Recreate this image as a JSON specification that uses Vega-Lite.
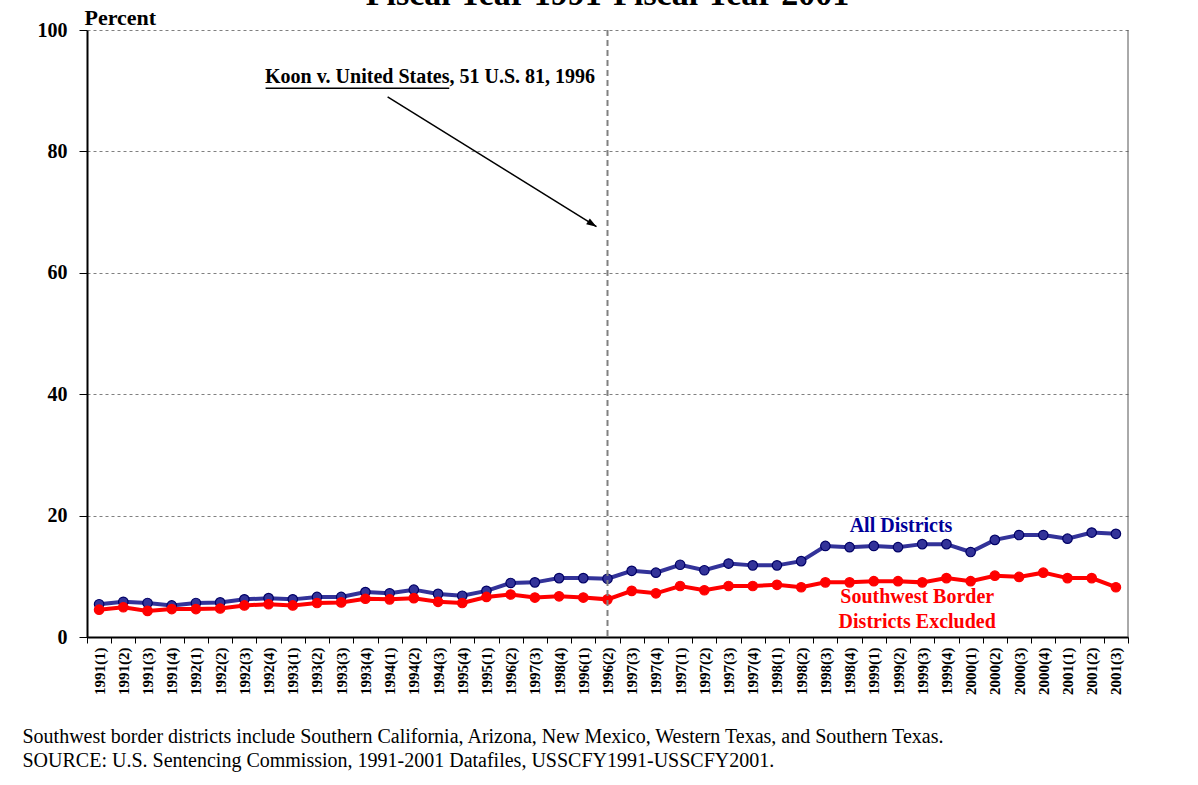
{
  "$schema": "https://vega.github.io/schema/vega-lite/v6.json",
  "width": 1041,
  "height": 607,
  "autosize": "none",
  "padding": {"left": 87, "top": 30, "right": 70, "bottom": 148},
  "background": "white",
  "config": {"font": "Liberation Serif", "view": {"stroke": null}},
  "title": {
    "text": "Fiscal Year 1991-Fiscal Year 2001",
    "font": "Liberation Serif",
    "fontSize": 34,
    "fontWeight": "bold",
    "color": "black",
    "anchor": "middle",
    "frame": "group",
    "baseline": "bottom",
    "offset": -40
  },
  "datasets": {
    "rates": [
      {"q": "1991(1)", "All Districts": 5.4, "Southwest Border Districts Excluded": 4.5},
      {"q": "1991(2)", "All Districts": 5.8, "Southwest Border Districts Excluded": 4.9},
      {"q": "1991(3)", "All Districts": 5.6, "Southwest Border Districts Excluded": 4.3},
      {"q": "1991(4)", "All Districts": 5.2, "Southwest Border Districts Excluded": 4.6},
      {"q": "1992(1)", "All Districts": 5.6, "Southwest Border Districts Excluded": 4.6},
      {"q": "1992(2)", "All Districts": 5.7, "Southwest Border Districts Excluded": 4.7},
      {"q": "1992(3)", "All Districts": 6.2, "Southwest Border Districts Excluded": 5.2},
      {"q": "1992(4)", "All Districts": 6.4, "Southwest Border Districts Excluded": 5.4},
      {"q": "1993(1)", "All Districts": 6.2, "Southwest Border Districts Excluded": 5.2},
      {"q": "1993(2)", "All Districts": 6.6, "Southwest Border Districts Excluded": 5.6},
      {"q": "1993(3)", "All Districts": 6.6, "Southwest Border Districts Excluded": 5.7},
      {"q": "1993(4)", "All Districts": 7.4, "Southwest Border Districts Excluded": 6.3},
      {"q": "1994(1)", "All Districts": 7.2, "Southwest Border Districts Excluded": 6.2},
      {"q": "1994(2)", "All Districts": 7.8, "Southwest Border Districts Excluded": 6.4},
      {"q": "1994(3)", "All Districts": 7.1, "Southwest Border Districts Excluded": 5.8},
      {"q": "1995(4)", "All Districts": 6.8, "Southwest Border Districts Excluded": 5.6},
      {"q": "1995(1)", "All Districts": 7.6, "Southwest Border Districts Excluded": 6.6},
      {"q": "1996(2)", "All Districts": 8.9, "Southwest Border Districts Excluded": 7.0},
      {"q": "1997(3)", "All Districts": 9.0, "Southwest Border Districts Excluded": 6.5},
      {"q": "1998(4)", "All Districts": 9.7, "Southwest Border Districts Excluded": 6.7},
      {"q": "1996(1)", "All Districts": 9.7, "Southwest Border Districts Excluded": 6.5},
      {"q": "1996(2)#2", "All Districts": 9.6, "Southwest Border Districts Excluded": 6.2},
      {"q": "1997(3)#2", "All Districts": 10.9, "Southwest Border Districts Excluded": 7.6},
      {"q": "1997(4)", "All Districts": 10.6, "Southwest Border Districts Excluded": 7.2},
      {"q": "1997(1)", "All Districts": 11.9, "Southwest Border Districts Excluded": 8.4},
      {"q": "1997(2)", "All Districts": 11.0, "Southwest Border Districts Excluded": 7.7},
      {"q": "1997(3)#3", "All Districts": 12.1, "Southwest Border Districts Excluded": 8.4},
      {"q": "1997(4)#2", "All Districts": 11.8, "Southwest Border Districts Excluded": 8.4},
      {"q": "1998(1)", "All Districts": 11.8, "Southwest Border Districts Excluded": 8.6},
      {"q": "1998(2)", "All Districts": 12.5, "Southwest Border Districts Excluded": 8.2},
      {"q": "1998(3)", "All Districts": 15.0, "Southwest Border Districts Excluded": 9.0},
      {"q": "1998(4)#2", "All Districts": 14.8, "Southwest Border Districts Excluded": 9.0},
      {"q": "1999(1)", "All Districts": 15.0, "Southwest Border Districts Excluded": 9.2},
      {"q": "1999(2)", "All Districts": 14.8, "Southwest Border Districts Excluded": 9.2},
      {"q": "1999(3)", "All Districts": 15.3, "Southwest Border Districts Excluded": 9.0},
      {"q": "1999(4)", "All Districts": 15.3, "Southwest Border Districts Excluded": 9.7},
      {"q": "2000(1)", "All Districts": 14.0, "Southwest Border Districts Excluded": 9.2},
      {"q": "2000(2)", "All Districts": 16.0, "Southwest Border Districts Excluded": 10.1},
      {"q": "2000(3)", "All Districts": 16.8, "Southwest Border Districts Excluded": 9.9},
      {"q": "2000(4)", "All Districts": 16.8, "Southwest Border Districts Excluded": 10.6},
      {"q": "2001(1)", "All Districts": 16.2, "Southwest Border Districts Excluded": 9.7},
      {"q": "2001(2)", "All Districts": 17.2, "Southwest Border Districts Excluded": 9.7},
      {"q": "2001(3)", "All Districts": 17.0, "Southwest Border Districts Excluded": 8.2}
    ],
    "decision": [{"q": "1996(2)#2"}],
    "lastQuarter": [{"q": "2001(3)"}],
    "koonText": [{"q": "1994(3)", "v": 91.3, "label": "Koon v. United States, 51 U.S. 81, 1996"}],
    "koonUnderline": [{"q": "1992(4)", "q2": "1995(4)", "v": 90.4}],
    "arrow": [{"q": "1994(1)", "v": 89.0, "q2": "1996(2)#2", "v2": 67.6}],
    "allLabel": [{"q": "1999(2)", "v": 18.3, "label": "All Districts"}],
    "swLabel": [
      {"q": "1999(3)", "v": 6.6, "label": "Southwest Border"},
      {"q": "1999(3)", "v": 2.5, "label": "Districts Excluded"}
    ]
  },
  "encoding": {
    "x": {
      "field": "q",
      "type": "ordinal",
      "sort": null,
      "scale": {"type": "band", "paddingInner": 0, "paddingOuter": 0},
      "axis": {
        "labelAngle": -90,
        "labelExpr": "slice(datum.label, 0, 7)",
        "labelFont": "Liberation Serif",
        "labelFontWeight": "bold",
        "labelFontSize": 15,
        "labelColor": "black",
        "labelPadding": 4,
        "domainColor": "black",
        "domainWidth": 2,
        "tickColor": "black",
        "tickWidth": 1,
        "tickSize": 6,
        "tickBand": "extent",
        "title": [
          "Southwest border districts include Southern California, Arizona, New Mexico, Western Texas, and Southern Texas.",
          "SOURCE: U.S. Sentencing Commission, 1991-2001 Datafiles, USSCFY1991-USSCFY2001."
        ],
        "titleFont": "Liberation Serif",
        "titleFontWeight": "normal",
        "titleFontSize": 20,
        "titleColor": "black",
        "titleAlign": "left",
        "titleAnchor": "start",
        "titleBaseline": "alphabetic",
        "titleLineHeight": 24,
        "titleX": -65,
        "titleY": 105
      }
    }
  },
  "layer": [
    {
      "data": {"name": "rates"},
      "transform": [{"fold": ["All Districts", "Southwest Border Districts Excluded"], "as": ["series", "pct"]}],
      "mark": {"type": "line", "strokeWidth": 4},
      "encoding": {
        "y": {
          "field": "pct",
          "type": "quantitative",
          "scale": {"domain": [0, 100], "nice": false},
          "axis": {
            "values": [0, 20, 40, 60, 80, 100],
            "grid": true,
            "gridColor": "#808080",
            "gridDash": [3, 3],
            "gridWidth": 1,
            "domainColor": "black",
            "domainWidth": 2,
            "tickColor": "black",
            "tickSize": 8,
            "labelFont": "Liberation Serif",
            "labelFontWeight": "bold",
            "labelFontSize": 20,
            "labelColor": "black",
            "labelPadding": 12,
            "title": "Percent",
            "titleFont": "Liberation Serif",
            "titleFontWeight": "bold",
            "titleFontSize": 22,
            "titleColor": "black",
            "titleAngle": 0,
            "titleAlign": "left",
            "titleBaseline": "alphabetic",
            "titleX": -3,
            "titleY": -6
          }
        },
        "color": {
          "field": "series",
          "type": "nominal",
          "scale": {"domain": ["All Districts", "Southwest Border Districts Excluded"], "range": ["#333399", "#ff0000"]},
          "legend": null
        }
      }
    },
    {
      "data": {"name": "rates"},
      "transform": [{"fold": ["All Districts", "Southwest Border Districts Excluded"], "as": ["series", "pct"]}],
      "mark": {"type": "point", "filled": true, "size": 90, "strokeWidth": 1.2, "opacity": 1},
      "encoding": {
        "y": {"field": "pct", "type": "quantitative"},
        "fill": {
          "field": "series",
          "type": "nominal",
          "scale": {"domain": ["All Districts", "Southwest Border Districts Excluded"], "range": ["#333399", "#ff0000"]},
          "legend": null
        },
        "stroke": {
          "field": "series",
          "type": "nominal",
          "scale": {"domain": ["All Districts", "Southwest Border Districts Excluded"], "range": ["#000066", "#ff0000"]},
          "legend": null
        }
      }
    },
    {
      "data": {"name": "decision"},
      "mark": {"type": "rule", "color": "#808080", "strokeWidth": 2, "strokeDash": [6, 4]},
      "encoding": {}
    },
    {
      "data": {"name": "lastQuarter"},
      "mark": {"type": "rule", "color": "#555555", "strokeWidth": 1},
      "encoding": {
        "x": {"field": "q", "type": "ordinal", "bandPosition": 1}
      }
    },
    {
      "data": {"name": "koonText"},
      "mark": {"type": "text", "font": "Liberation Serif", "fontWeight": "bold", "fontSize": 20, "color": "black", "align": "center", "baseline": "alphabetic", "dx": -8},
      "encoding": {
        "y": {"field": "v", "type": "quantitative"},
        "text": {"field": "label"}
      }
    },
    {
      "data": {"name": "koonUnderline"},
      "mark": {"type": "rule", "color": "black", "strokeWidth": 1.5, "xOffset": -3, "x2Offset": -13},
      "encoding": {
        "x2": {"field": "q2"},
        "y": {"field": "v", "type": "quantitative"}
      }
    },
    {
      "data": {"name": "arrow"},
      "mark": {"type": "rule", "color": "black", "strokeWidth": 1.5, "xOffset": -2, "x2Offset": -11},
      "encoding": {
        "x2": {"field": "q2"},
        "y": {"field": "v", "type": "quantitative"},
        "y2": {"field": "v2"}
      }
    },
    {
      "data": {"name": "arrow"},
      "mark": {"type": "point", "shape": "M0,0L-2,-0.7L-2,0.7Z", "filled": true, "color": "black", "size": 100, "angle": 31.8, "opacity": 1, "xOffset": -11},
      "encoding": {
        "x": {"field": "q2", "type": "ordinal"},
        "y": {"field": "v2", "type": "quantitative"}
      }
    },
    {
      "data": {"name": "allLabel"},
      "mark": {"type": "text", "font": "Liberation Serif", "fontWeight": "bold", "fontSize": 20, "color": "#000099", "align": "center", "baseline": "middle", "dx": 3},
      "encoding": {
        "y": {"field": "v", "type": "quantitative"},
        "text": {"field": "label"}
      }
    },
    {
      "data": {"name": "swLabel"},
      "mark": {"type": "text", "font": "Liberation Serif", "fontWeight": "bold", "fontSize": 20, "color": "#ff0000", "align": "center", "baseline": "middle", "dx": -5},
      "encoding": {
        "y": {"field": "v", "type": "quantitative"},
        "text": {"field": "label"}
      }
    }
  ]
}
